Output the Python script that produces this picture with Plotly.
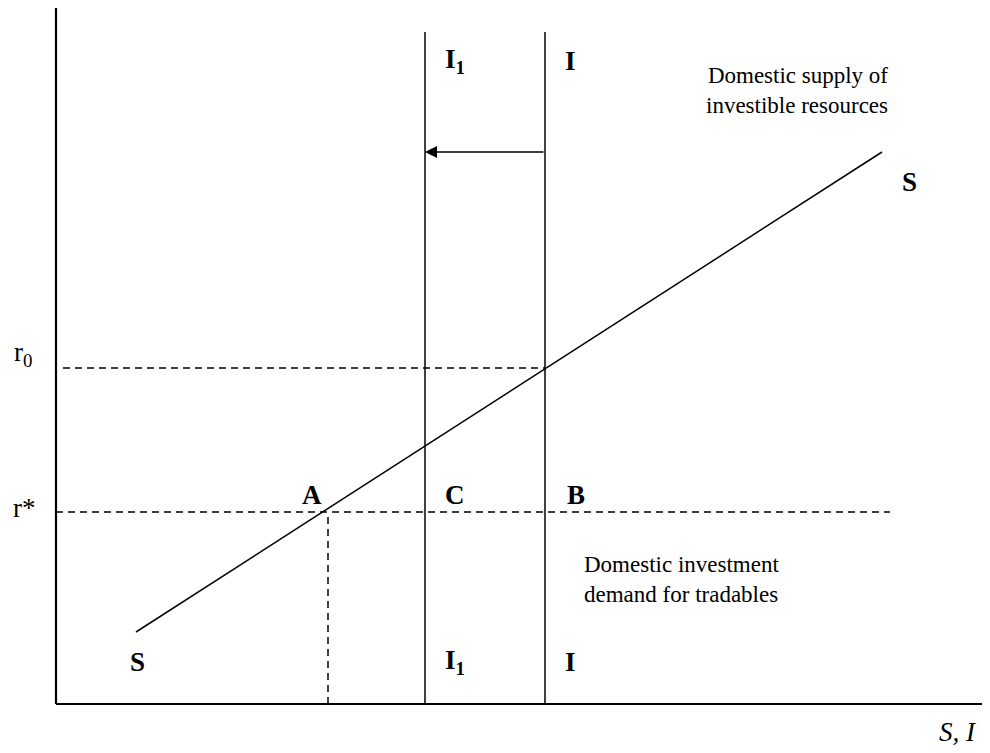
import plotly.graph_objects as go

# conceptual diagram units: origin at the axes corner, 1 unit ~ 10 px
S_x = [8.0, 82.6]          # domestic supply of investible resources
S_y = [7.2, 55.2]
I_x = 48.9                 # investment demand (vertical)
I1_x = 36.9                # shifted investment demand
I_top = 67.2
r0 = 33.6
r_star = 19.2
A_x = 27.2
arrow_y = 55.2
axis_top = 69.7
x_end = 94.2
rstar_end = 83.4

FONT = "Liberation Serif, Times New Roman, serif"
INK = "black"

fig = go.Figure()

def seg(x, y, width=1.5, dash="solid"):
    fig.add_trace(go.Scatter(x=x, y=y, mode="lines", hoverinfo="skip",
                             line=dict(color=INK, width=width, dash=dash)))

# axes
seg([0, 0], [0, axis_top], width=2.2)
seg([0, x_end], [0, 0], width=2.2)

# curves
seg(S_x, S_y)
seg([I_x, I_x], [0, I_top])
seg([I1_x, I1_x], [0, I_top])

# dashed guides
seg([0.7, I_x], [r0, r0], dash="7px,5px")
seg([0, rstar_end], [r_star, r_star], dash="7px,5px")
seg([A_x, A_x], [0, r_star], dash="7px,5px")

# shift arrow I -> I1
fig.add_annotation(x=I1_x, y=arrow_y, ax=I_x, ay=arrow_y, xref="x", yref="y",
                   axref="x", ayref="y", text="", showarrow=True,
                   arrowhead=2, arrowsize=1.6, arrowwidth=1.5, arrowcolor=INK)

def label(x, y, text, size=27, bold=True, **kw):
    t = f"<b>{text}</b>" if bold else text
    fig.add_annotation(x=x, y=y, text=t, showarrow=False,
                       font=dict(family=FONT, size=size, color=INK), **kw)

label(-3.3, 35.0, "r<sub>0</sub>", size=27, bold=False)
label(-3.2, 19.6, "r*", size=27, bold=False)
label(25.6, 20.9, "A")
label(39.9, 20.9, "C")
label(52.0, 20.9, "B")
label(39.9, 64.3, "I<sub>1</sub>")
label(51.4, 64.3, "I")
label(8.1, 4.2, "S")
label(39.9, 4.2, "I<sub>1</sub>")
label(51.4, 4.2, "I")
label(85.3, 52.2, "S")
label(83.4, 61.4, "Domestic supply of<br>investible resources", size=23, bold=False,
      xanchor="right", align="right")
label(52.6, 12.5, "Domestic investment<br>demand for tradables", size=23, bold=False,
      xanchor="left", align="left")
label(90.2, -2.8, "<i>S, I</i>", size=27, bold=False)

fig.update_layout(
    width=990, height=753, showlegend=False,
    paper_bgcolor="white", plot_bgcolor="white",
    margin=dict(l=0, r=0, t=0, b=0),
)
# page body adds an 8 px offset; ranges shifted to place the origin at (56, 704)
fig.update_xaxes(range=[-4.8, 94.2], visible=False)
fig.update_yaxes(range=[-5.7, 69.6], visible=False)

fig.write_html("out.html")
